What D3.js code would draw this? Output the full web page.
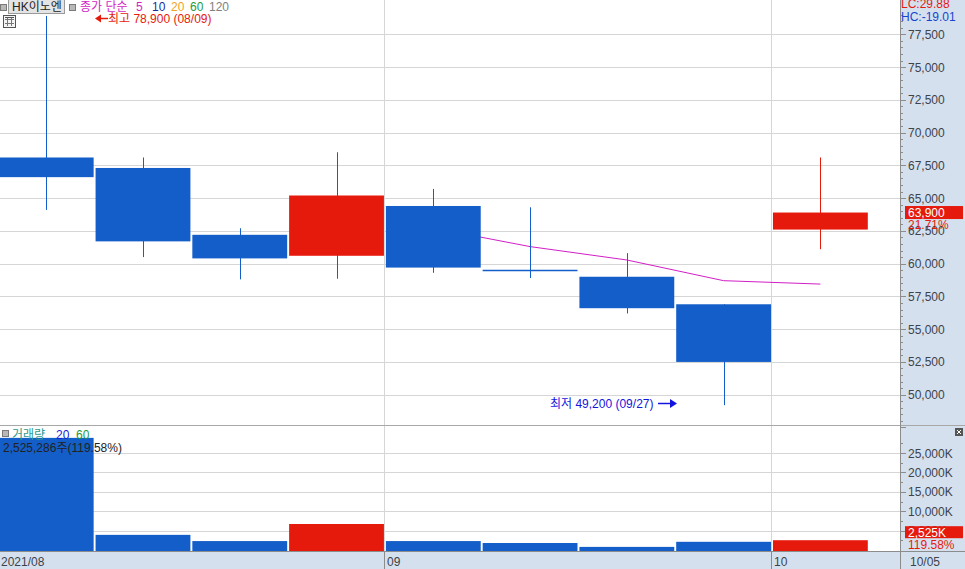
<!DOCTYPE html>
<html><head><meta charset="utf-8">
<script src="https://cdn.jsdelivr.net/npm/d3@7"></script>
<style>
html,body{margin:0;padding:0;background:#fff;}
svg{display:block;}
text{font-family:"Liberation Sans","Noto Sans CJK KR",sans-serif;font-size:12px;}
</style></head>
<body>
<svg id="c" width="965" height="569"></svg>
<script>
const dates = ["2021-08-09","2021-08-16","2021-08-23","2021-08-30","2021-09-06","2021-09-13","2021-09-20","2021-09-27","2021-10-04"];
const open  = [68100, 67300, 62200, 60600, 64400, 59500, 59000, 56900, 62600];
const high  = [78900, 68100, 62700, 68500, 65700, 64300, 60800, 56900, 68100];
const low   = [64100, 60500, 58800, 58850, 59300, 58900, 56200, 49200, 61100];
const close = [66600, 61700, 60400, 65200, 59700, 59500, 56600, 52500, 63900];
const volumeK = [28900, 3900, 2300, 6700, 2300, 1800, 800, 2111.8, 2525.286];
const ma5Dates = ["2021-09-06","2021-09-13","2021-09-20","2021-09-27","2021-10-04"];
const ma5 = [62720, 61300, 60280, 58700, 58440];
const priceTicks = [50000,52500,55000,57500,60000,62500,65000,67500,70000,72500,75000,77500];
const volTicks = [5000,10000,15000,20000,25000];
const monthMarks = [{d:"2021-08-09",label:"2021/08"},{d:"2021-09-06",label:"09"},{d:"2021-10-04",label:"10"}];

const W=965,H=569, plotR=900, topB=425, volB=551;
const RED="#e61a0c", BLUE="#135ec9", GRID="#d6d6d6", AXBG="#d5e0ef", AXL="#8c8c8c", TXT="#3c434a";
const svg=d3.select("#c");

const x=d3.scaleBand().domain(dates).range([-1.2,867.8]).paddingInner(0.02).paddingOuter(0);
const y=d3.scaleLinear().domain([50000,77500]).range([394.7,34.3]);
const yv=d3.scaleLinear().domain([0,25000]).range([550,453]);
const cx=d=>x(d)+x.bandwidth()/2;

// right axis and bottom axis backgrounds
svg.append("rect").attr("x",plotR).attr("y",0).attr("width",W-plotR).attr("height",H).attr("fill",AXBG);
svg.append("rect").attr("x",0).attr("y",volB).attr("width",W).attr("height",H-volB).attr("fill",AXBG);

// gridlines price
svg.append("g").selectAll("line").data(priceTicks).join("line")
 .attr("x1",0).attr("x2",plotR).attr("y1",d=>Math.round(y(d))+0.5).attr("y2",d=>Math.round(y(d))+0.5)
 .attr("stroke",GRID);
// gridlines volume
svg.append("g").selectAll("line").data(volTicks).join("line")
 .attr("x1",0).attr("x2",plotR).attr("y1",d=>Math.round(yv(d))+0.5).attr("y2",d=>Math.round(yv(d))+0.5)
 .attr("stroke",GRID);
// month separators
svg.append("g").selectAll("line").data(monthMarks.slice(1)).join("line")
 .attr("x1",d=>Math.floor(x(d.d))-0.5).attr("x2",d=>Math.floor(x(d.d))-0.5)
 .attr("y1",0).attr("y2",volB).attr("stroke",GRID);

// MA5 line
svg.append("path").datum(ma5Dates.map((d,i)=>[cx(d),y(ma5[i])]))
 .attr("d",d3.line()).attr("fill","none").attr("stroke","#d21ec6").attr("stroke-width",1);

// candles
const cg=svg.append("g");
dates.forEach((d,i)=>{
  const up=close[i]>open[i];
  const col=up?RED:BLUE;
  const xm=Math.round(cx(d))+0.5;
  cg.append("line").attr("x1",xm).attr("x2",xm).attr("y1",y(high[i])).attr("y2",y(low[i])).attr("stroke",col);
  const t=y(Math.max(open[i],close[i])), b=y(Math.min(open[i],close[i]));
  if(b-t<1.5){
    cg.append("line").attr("x1",x(d)).attr("x2",x(d)+x.bandwidth()).attr("y1",Math.round(t)+0.5).attr("y2",Math.round(t)+0.5).attr("stroke",col).attr("stroke-width",1.5);
  } else {
    cg.append("rect").attr("x",x(d)).attr("y",t).attr("width",x.bandwidth()).attr("height",b-t).attr("fill",col);
  }
});

// volume bars
svg.append("g").selectAll("rect").data(dates).join("rect")
 .attr("x",d=>x(d)).attr("width",x.bandwidth())
 .attr("y",(d,i)=>yv(volumeK[i])).attr("height",(d,i)=>yv(0)+1-yv(volumeK[i]))
 .attr("fill",(d,i)=>close[i]>open[i]?RED:BLUE);

// panel separator and axis lines
svg.append("line").attr("x1",0).attr("x2",W).attr("y1",topB+0.5).attr("y2",topB+0.5).attr("stroke","#a8a8a8");
svg.append("line").attr("x1",0).attr("x2",W).attr("y1",volB+0.5).attr("y2",volB+0.5).attr("stroke",AXL);
svg.append("line").attr("x1",plotR+0.5).attr("x2",plotR+0.5).attr("y1",0).attr("y2",H).attr("stroke",AXL);
svg.append("g").selectAll("line").data(monthMarks.slice(1)).join("line")
 .attr("x1",d=>Math.floor(x(d.d))-0.5).attr("x2",d=>Math.floor(x(d.d))-0.5)
 .attr("y1",volB).attr("y2",H).attr("stroke",AXL);

// price axis ticks
const minorP=d3.range(47500,79001,500);
svg.append("g").selectAll("line").data(minorP).join("line")
 .attr("x1",plotR).attr("x2",d=>plotR+(d%2500===0?6:3))
 .attr("y1",d=>Math.round(y(d))+0.5).attr("y2",d=>Math.round(y(d))+0.5).attr("stroke",AXL);
svg.append("g").selectAll("text").data(priceTicks).join("text")
 .attr("x",908).attr("y",d=>y(d)+4.5).attr("fill",TXT).text(d=>d3.format(",")(d));
// volume axis ticks
const minorV=d3.range(2500,27501,2500);
svg.append("g").selectAll("line").data(minorV).join("line")
 .attr("x1",plotR).attr("x2",d=>plotR+(d%5000===0?6:3))
 .attr("y1",d=>Math.round(yv(d))+0.5).attr("y2",d=>Math.round(yv(d))+0.5).attr("stroke",AXL);
svg.append("g").selectAll("text").data(volTicks).join("text")
 .attr("x",908).attr("y",d=>yv(d)+4.5).attr("fill",TXT).text(d=>d3.format(",")(d)+"K");

// bottom axis labels
svg.append("g").selectAll("text").data(monthMarks).join("text")
 .attr("x",(d,i)=>i===0?1:Math.floor(x(d.d))+2).attr("y",566).attr("fill",TXT).text(d=>d.label);
svg.append("text").attr("x",910).attr("y",566).attr("fill",TXT).text("10/05");

// current price labels
const last=dates.length-1;
const pc=y(close[last]);
svg.append("rect").attr("x",905).attr("y",pc-6.5).attr("width",58).attr("height",13).attr("fill",RED);
svg.append("text").attr("x",908).attr("y",pc+4.5).attr("fill","#fff").text(d3.format(",")(close[last]));
const chg=(close[last]/close[last-1]-1)*100;
svg.append("text").attr("x",908).attr("y",pc+16.5).attr("fill",RED).text(chg.toFixed(2)+"%");
const vc=yv(volumeK[last])-8;
svg.append("rect").attr("x",905).attr("y",vc-6).attr("width",58).attr("height",12).attr("fill",RED);
svg.append("text").attr("x",908).attr("y",vc+4.5).attr("fill","#fff").text(d3.format(",.0f")(volumeK[last])+"K");
svg.append("text").attr("x",908).attr("y",vc+17).attr("fill",RED).text((volumeK[last]/volumeK[last-1]*100).toFixed(2)+"%");

// LC / HC
const lo=d3.min(low), hi=d3.max(high);
svg.append("text").attr("x",901).attr("y",8).attr("fill",RED).text("LC:"+((close[last]/lo-1)*100).toFixed(2));
svg.append("text").attr("x",901).attr("y",21).attr("fill","#1446d0").text("HC:"+((close[last]/hi-1)*100).toFixed(2));

// top legend
const sq=(g,xx,yy)=>{g.append("rect").attr("x",xx+0.5).attr("y",yy+0.5).attr("width",6).attr("height",6).attr("fill","#b8b8b8").attr("stroke","#7a7a7a");};
sq(svg,0,4);
svg.append("rect").attr("x",8.5).attr("y",-1.5).attr("width",56).attr("height",15).attr("fill","#e4e4e4").attr("stroke","#9a9a9a");
svg.append("text").attr("x",12).attr("y",11).attr("fill","#222").text("HK이노엔");
sq(svg,69,4);
const leg=[["종가 단순","#d21ec6",80],["5","#d21ec6",136],["10","#1c2c9c",152],["20","#f0a21c",171],["60","#1c9a3c",190],["120","#808080",209]];
svg.append("g").selectAll("text").data(leg).join("text").attr("x",d=>d[2]).attr("y",11).attr("fill",d=>d[1]).text(d=>d[0]);
// grid icon
const gi=svg.append("g");
gi.append("rect").attr("x",3.5).attr("y",15.5).attr("width",12).attr("height",12).attr("fill","#f4f4f4").attr("stroke","#555");
[7.5,11.5].forEach(v=>{gi.append("line").attr("x1",v).attr("x2",v).attr("y1",18).attr("y2",26).attr("stroke","#777");});
[19.5,23.5].forEach(v=>{gi.append("line").attr("x1",5).attr("x2",14).attr("y1",v).attr("y2",v).attr("stroke","#777");});
gi.append("line").attr("x1",5).attr("x2",14).attr("y1",17.5).attr("y2",17.5).attr("stroke","#555");

// high annotation
const loIdx=low.indexOf(lo);
const fmtD=s=>s.slice(5,7)+"/"+s.slice(8,10);
svg.append("path").attr("d","M95,18.5 L101,14.5 L101,22.5 Z").attr("fill",RED);
svg.append("line").attr("x1",100).attr("x2",108).attr("y1",18.5).attr("y2",18.5).attr("stroke",RED).attr("stroke-width",1.5);
svg.append("text").attr("x",108).attr("y",23).attr("fill",RED).text("최고 "+d3.format(",")(hi)+" (08/09)");
// low annotation
svg.append("text").attr("x",550).attr("y",408).attr("fill","#1414e0").text("최저 "+d3.format(",")(lo)+" ("+fmtD(dates[loIdx])+")");
svg.append("line").attr("x1",658).attr("x2",671).attr("y1",403.5).attr("y2",403.5).attr("stroke","#1414e0").attr("stroke-width",1.5);
svg.append("path").attr("d","M677,403.5 L670,399 L670,408 Z").attr("fill","#1414e0");

// volume legend
sq(svg,2,430);
svg.append("text").attr("x",12).attr("y",439).attr("fill","#2a9a8c").text("거래량");
svg.append("text").attr("x",56).attr("y",439).attr("fill","#1c1cd8").text("20");
svg.append("text").attr("x",76).attr("y",439).attr("fill","#1c9a3c").text("60");
svg.append("text").attr("x",3).attr("y",452).attr("fill","#222").text("2,525,286주(119.58%)");
// small icon
svg.append("rect").attr("x",955).attr("y",428).attr("width",8).attr("height",8).attr("fill","#555");
svg.append("path").attr("d","M957,430 L961,434 M961,430 L957,434").attr("stroke","#fff");
</script>
</body></html>
